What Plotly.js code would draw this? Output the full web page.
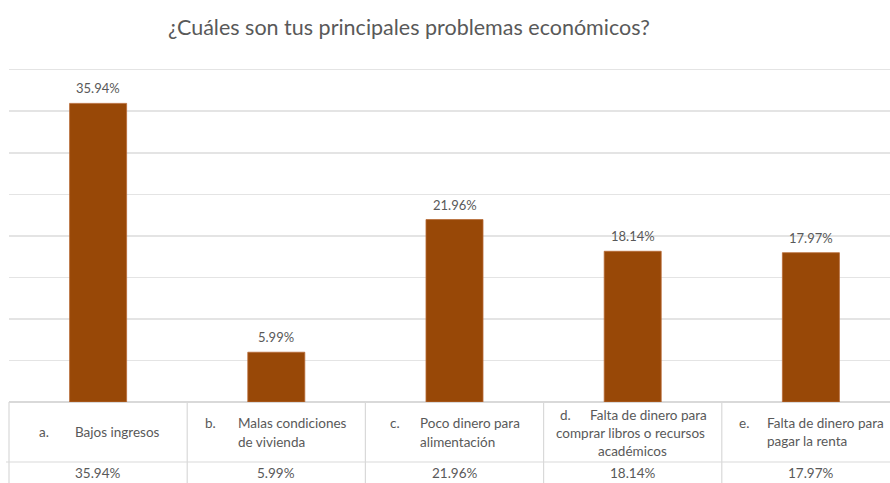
<!DOCTYPE html>
<html>
<head>
<meta charset="utf-8">
<script src="https://cdn.plot.ly/plotly-3.0.1.min.js"></script>
<style>
  html, body { margin: 0; padding: 0; background: #ffffff; overflow: hidden; }
  #chart { width: 890px; height: 483px; }
</style>
</head>
<body>
<div id="chart"></div>
<script>
// ---- data ----
const categories = [
  "Bajos ingresos",
  "Malas condiciones de vivienda",
  "Poco dinero para alimentación",
  "Falta de dinero para comprar libros o recursos académicos",
  "Falta de dinero para pagar la renta"
];
const markers = ["a.", "b.", "c.", "d.", "e."];
const headerLines = [
  ["Bajos ingresos"],
  ["Malas condiciones", "de vivienda"],
  ["Poco dinero para", "alimentación"],
  ["Falta de dinero para", "comprar libros o recursos", "académicos"],
  ["Falta de dinero para", "pagar la renta"]
];
const values = [35.94, 5.99, 21.96, 18.14, 17.97];
const titleText = "¿Cuáles son tus principales problemas económicos?";

// ---- layout / style ----
const FONT = "Lato, 'Open Sans', sans-serif";
const GREY = "#595959";
const LINE = "#d9d9d9";
const W = 890, H = 483;
const M = { l: 9, r: 0, t: 68, b: 81 };
const plotW = W - M.l - M.r;
const plotH = H - M.t - M.b;
const colW = 178.2;                      // pixel width of one category
const R0 = -0.5, R1 = -0.5 + plotW / colW;

// cell text placement: xshift from column centre, yshift from baseline (px)
const cellSpec = [
  { mk: [-61, -30], lines: [[-25, -30, "left"]] },
  { mk: [-73, -21], lines: [[-40, -21, "left"], [-40, -40, "left"]] },
  { mk: [-67, -21], lines: [[-37, -21, "left"], [-37, -40, "left"]] },
  { mk: [-75, -13], lines: [[-45, -13, "left"], [-2, -31, "center"], [0, -49, "center"]] },
  { mk: [-74, -21], lines: [[-46, -21, "left"], [-46, -39, "left"]] }
];

const tableFont = { family: FONT, size: 13.5, color: GREY };

const annotations = [];
categories.forEach((c, i) => {
  const spec = cellSpec[i];
  annotations.push({
    xref: "x", yref: "paper", x: c, y: 0,
    xanchor: "left", yanchor: "middle",
    xshift: spec.mk[0], yshift: spec.mk[1],
    text: markers[i], showarrow: false, font: tableFont
  });
  headerLines[i].forEach((ln, k) => {
    const p = spec.lines[k];
    annotations.push({
      xref: "x", yref: "paper", x: c, y: 0,
      xanchor: p[2], yanchor: "middle",
      xshift: p[0], yshift: p[1],
      text: ln, showarrow: false, font: tableFont
    });
  });
  annotations.push({
    xref: "x", yref: "paper", x: c, y: 0,
    xanchor: "center", yanchor: "middle",
    xshift: 0, yshift: -71,
    text: values[i].toFixed(2) + "%", showarrow: false, font: tableFont
  });
  // data label above the bar
  annotations.push({
    xref: "x", yref: "y", x: c, y: values[i],
    xanchor: "center", yanchor: "middle",
    yshift: 15,
    text: values[i].toFixed(2) + "%", showarrow: false,
    font: { family: FONT, size: 13, color: GREY }
  });
});

// table grid lines (paper coords derived from the category axis range)
const px = (v) => (v - R0) / (R1 - R0);
const py = (pix) => -pix / plotH;
const shapes = [];
for (let i = 0; i <= categories.length; i++) {
  shapes.push({
    type: "line", xref: "paper", yref: "paper",
    x0: px(i - 0.5), x1: px(i - 0.5), y0: 0, y1: py(M.b + 5),
    line: { color: LINE, width: 1.2 }
  });
}
shapes.push({
  type: "line", xref: "paper", yref: "paper",
  x0: -3 / plotW, x1: 1, y0: py(60), y1: py(60),
  line: { color: LINE, width: 1.2 }
});

const trace = {
  type: "bar",
  x: categories,
  y: values,
  marker: { color: "#984807", line: { color: "#b86a36", width: 0.8 } },
  hoverinfo: "none"
};

const layout = {
  width: W, height: H,
  margin: M,
  paper_bgcolor: "#ffffff",
  plot_bgcolor: "#ffffff",
  font: { family: FONT, color: GREY },
  title: {
    text: titleText,
    xref: "container", yref: "container",
    x: 409 / W, y: 1 - 27 / H,
    xanchor: "center", yanchor: "middle",
    font: { family: FONT, size: 21.5, color: GREY }
  },
  showlegend: false,
  bargap: 0.68,
  xaxis: {
    type: "category",
    range: [R0, R1],
    showticklabels: false,
    showgrid: false,
    zeroline: false,
    showline: false,
    ticks: "",
    fixedrange: true
  },
  yaxis: {
    range: [0, 40.2],
    dtick: 5,
    tick0: 0,
    showticklabels: false,
    showgrid: true,
    gridcolor: "#e4e4e4",
    gridwidth: 1.5,
    zeroline: true,
    zerolinecolor: LINE,
    zerolinewidth: 1.2,
    showline: false,
    ticks: "",
    fixedrange: true
  },
  shapes: shapes,
  annotations: annotations
};

Plotly.newPlot("chart", [trace], layout, { displayModeBar: false, staticPlot: true });
</script>
</body>
</html>
